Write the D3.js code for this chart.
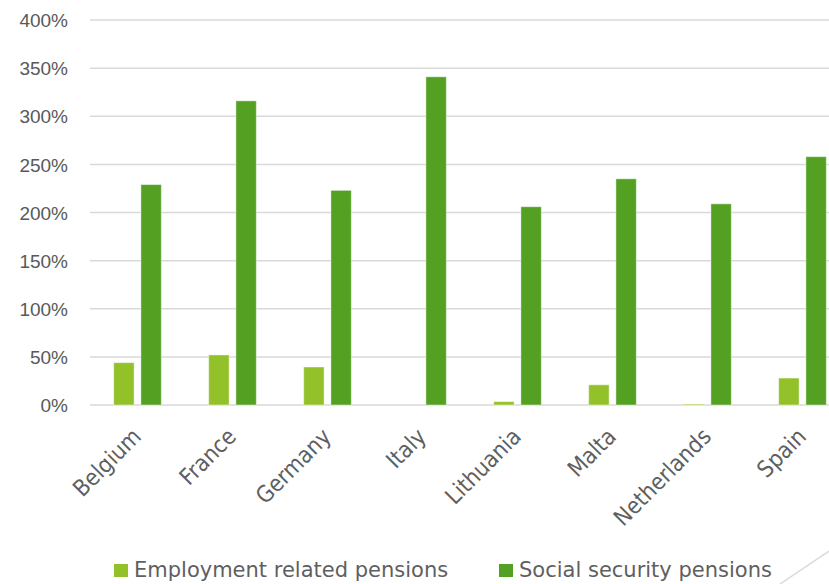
<!DOCTYPE html>
<html><head><meta charset="utf-8">
<script src="https://cdn.jsdelivr.net/npm/d3@7"></script>
<style>body{margin:0;background:#fff}svg{display:block}</style>
</head><body>
<svg id="c" width="829" height="584"></svg>
<script>
const categories = ["Belgium","France","Germany","Italy","Lithuania","Malta","Netherlands","Spain"];
const seriesNames = ["Employment related pensions","Social security pensions"];
const employment = [44, 52, 39.5, 0, 3.5, 21, 1, 28];
const social = [229, 316, 223, 341, 206, 235, 209, 258];
const yTicks = [0,50,100,150,200,250,300,350,400];
const colors = ["#92C12A","#53A022"];

const svg = d3.select("#c");
const x = d3.scaleBand().domain(categories).range([90, 850]).paddingInner(0).paddingOuter(0);
const x1 = d3.scaleBand().domain([0,1]).range([0, x.bandwidth()]).paddingInner(0.25).paddingOuter(0.87);
const y = d3.scaleLinear().domain([0,400]).range([405,20]);

// gridlines
svg.append("g").selectAll("line").data(yTicks).join("line")
  .attr("x1", 90).attr("x2", 829)
  .attr("y1", d=>y(d)).attr("y2", d=>y(d))
  .attr("stroke","#d9d9d9").attr("stroke-width",1.5);

// y axis labels
const yAxis = d3.axisLeft(y).tickValues(yTicks).tickFormat(d=>d+"%").tickSize(0).tickPadding(0);
const ya = svg.append("g").attr("transform","translate(68,0)").call(yAxis);
ya.select(".domain").remove();
ya.selectAll("text").attr("font-family","Liberation Sans, Arial, sans-serif").attr("font-size",19).attr("fill","#595959").attr("dy","0.35em");

// bars
const data = [employment, social];
const g = svg.append("g");
data.forEach((vals, si) => {
  g.append("g").selectAll("rect").data(categories).join("rect")
    .attr("x", (c)=>x(c)+x1(si))
    .attr("width", x1.bandwidth())
    .attr("y", (c,i)=>y(vals[i]))
    .attr("height", (c,i)=>y(0)-y(vals[i]))
    .attr("fill", colors[si])
    .attr("stroke","rgba(255,255,255,0.45)").attr("stroke-width",1);
});

// x labels
const xa = svg.append("g").attr("transform","translate(0,405)").call(d3.axisBottom(x).tickSize(0).tickPadding(0));
xa.select(".domain").remove();
xa.selectAll("text")
  .attr("font-family","DejaVu Sans Condensed, DejaVu Sans, sans-serif").attr("font-size",23).attr("fill","#5f5f5f")
  .attr("text-anchor","end").attr("dy","0")
  .attr("transform","translate(5,33) rotate(-45)");

// legend
const lg = svg.append("g");
const legX = [114, 499];
seriesNames.forEach((n,i)=>{
  lg.append("rect").attr("x",legX[i]).attr("y",564).attr("width",14).attr("height",13).attr("fill",colors[i]);
  lg.append("text").attr("x",legX[i]+20).attr("y",577)
    .attr("font-family","DejaVu Sans, sans-serif")
    .attr("font-size",21).attr("fill","#5f5f5f").text(n);
});

// decorative diagonal
svg.append("line").attr("x1",780).attr("y1",584).attr("x2",829).attr("y2",551).attr("stroke","#d9d9d9").attr("stroke-width",1.5);
</script>
</body></html>
